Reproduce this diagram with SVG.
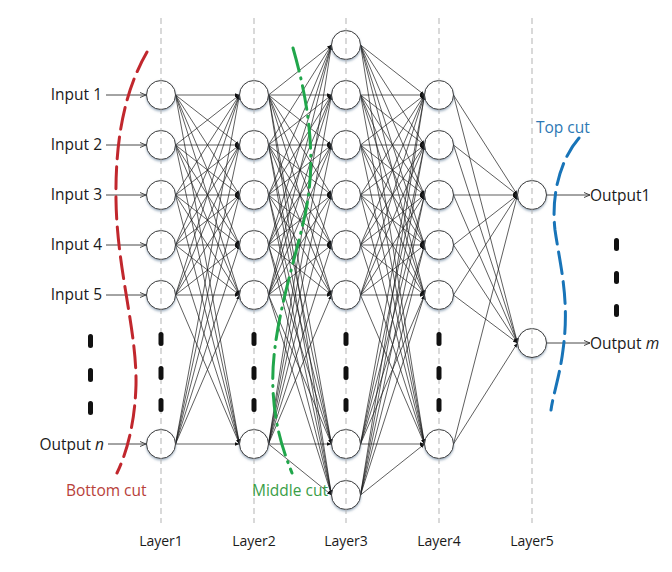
<svg xmlns="http://www.w3.org/2000/svg" width="672" height="572" viewBox="0 0 672 572">
<style>
text{font-family:"Open Sans","Noto Sans","Liberation Sans",sans-serif;font-size:15.5px;fill:#1a1a1a}
.lay{font-size:14px;text-anchor:middle}
.c line{stroke:#1a1a1a;stroke-width:0.7;marker-end:url(#ah)}
.io line{stroke:#333;stroke-width:0.9;marker-end:url(#oa)}
.n{fill:#fff;stroke:#3a3a3a;stroke-width:1;filter:url(#sh)}
.g{stroke:#b3b3b3;stroke-width:1;stroke-dasharray:6 4}
.bar{fill:#111}
.cut{fill:none;stroke-width:3;stroke-linecap:round}
</style>
<defs>
<marker id="ah" markerUnits="userSpaceOnUse" markerWidth="6" markerHeight="5" refX="4.5" refY="1.75" orient="auto"><path d="M0,0L4.5,1.75L0,3.5z" fill="#111"/></marker>
<marker id="oa" markerUnits="userSpaceOnUse" markerWidth="7" markerHeight="7" refX="6" refY="3" orient="auto"><path d="M0,0.5L6,3L0,5.5" fill="none" stroke="#333" stroke-width="0.9"/></marker>
<filter id="sh" x="-30%" y="-30%" width="160%" height="170%"><feDropShadow dx="0" dy="1.5" stdDeviation="0.8" flood-color="#52708f" flood-opacity="0.55"/></filter>
</defs>
<rect width="672" height="572" fill="#fff"/>
<g id="connectors">
<g class="c">
<line x1="175.5" y1="95" x2="239.5" y2="95"/><line x1="175.5" y1="95" x2="239.5" y2="145"/><line x1="175.5" y1="95" x2="239.5" y2="195"/><line x1="175.5" y1="95" x2="239.5" y2="245"/><line x1="175.5" y1="95" x2="239.5" y2="295"/><line x1="175.5" y1="95" x2="239.5" y2="444"/>
<line x1="175.5" y1="145" x2="239.5" y2="95"/><line x1="175.5" y1="145" x2="239.5" y2="145"/><line x1="175.5" y1="145" x2="239.5" y2="195"/><line x1="175.5" y1="145" x2="239.5" y2="245"/><line x1="175.5" y1="145" x2="239.5" y2="295"/><line x1="175.5" y1="145" x2="239.5" y2="444"/>
<line x1="175.5" y1="195" x2="239.5" y2="95"/><line x1="175.5" y1="195" x2="239.5" y2="145"/><line x1="175.5" y1="195" x2="239.5" y2="195"/><line x1="175.5" y1="195" x2="239.5" y2="245"/><line x1="175.5" y1="195" x2="239.5" y2="295"/><line x1="175.5" y1="195" x2="239.5" y2="444"/>
<line x1="175.5" y1="245" x2="239.5" y2="95"/><line x1="175.5" y1="245" x2="239.5" y2="145"/><line x1="175.5" y1="245" x2="239.5" y2="195"/><line x1="175.5" y1="245" x2="239.5" y2="245"/><line x1="175.5" y1="245" x2="239.5" y2="295"/><line x1="175.5" y1="245" x2="239.5" y2="444"/>
<line x1="175.5" y1="295" x2="239.5" y2="95"/><line x1="175.5" y1="295" x2="239.5" y2="145"/><line x1="175.5" y1="295" x2="239.5" y2="195"/><line x1="175.5" y1="295" x2="239.5" y2="245"/><line x1="175.5" y1="295" x2="239.5" y2="295"/><line x1="175.5" y1="295" x2="239.5" y2="444"/>
<line x1="175.5" y1="444" x2="239.5" y2="95"/><line x1="175.5" y1="444" x2="239.5" y2="145"/><line x1="175.5" y1="444" x2="239.5" y2="195"/><line x1="175.5" y1="444" x2="239.5" y2="245"/><line x1="175.5" y1="444" x2="239.5" y2="295"/><line x1="175.5" y1="444" x2="239.5" y2="444"/>

<line x1="268.5" y1="95" x2="331.5" y2="45"/><line x1="268.5" y1="95" x2="331.5" y2="95"/><line x1="268.5" y1="95" x2="331.5" y2="145"/><line x1="268.5" y1="95" x2="331.5" y2="195"/><line x1="268.5" y1="95" x2="331.5" y2="245"/><line x1="268.5" y1="95" x2="331.5" y2="295"/><line x1="268.5" y1="95" x2="331.5" y2="444"/><line x1="268.5" y1="95" x2="331.5" y2="495"/>
<line x1="268.5" y1="145" x2="331.5" y2="45"/><line x1="268.5" y1="145" x2="331.5" y2="95"/><line x1="268.5" y1="145" x2="331.5" y2="145"/><line x1="268.5" y1="145" x2="331.5" y2="195"/><line x1="268.5" y1="145" x2="331.5" y2="245"/><line x1="268.5" y1="145" x2="331.5" y2="295"/><line x1="268.5" y1="145" x2="331.5" y2="444"/><line x1="268.5" y1="145" x2="331.5" y2="495"/>
<line x1="268.5" y1="195" x2="331.5" y2="45"/><line x1="268.5" y1="195" x2="331.5" y2="95"/><line x1="268.5" y1="195" x2="331.5" y2="145"/><line x1="268.5" y1="195" x2="331.5" y2="195"/><line x1="268.5" y1="195" x2="331.5" y2="245"/><line x1="268.5" y1="195" x2="331.5" y2="295"/><line x1="268.5" y1="195" x2="331.5" y2="444"/><line x1="268.5" y1="195" x2="331.5" y2="495"/>
<line x1="268.5" y1="245" x2="331.5" y2="45"/><line x1="268.5" y1="245" x2="331.5" y2="95"/><line x1="268.5" y1="245" x2="331.5" y2="145"/><line x1="268.5" y1="245" x2="331.5" y2="195"/><line x1="268.5" y1="245" x2="331.5" y2="245"/><line x1="268.5" y1="245" x2="331.5" y2="295"/><line x1="268.5" y1="245" x2="331.5" y2="444"/><line x1="268.5" y1="245" x2="331.5" y2="495"/>
<line x1="268.5" y1="295" x2="331.5" y2="45"/><line x1="268.5" y1="295" x2="331.5" y2="95"/><line x1="268.5" y1="295" x2="331.5" y2="145"/><line x1="268.5" y1="295" x2="331.5" y2="195"/><line x1="268.5" y1="295" x2="331.5" y2="245"/><line x1="268.5" y1="295" x2="331.5" y2="295"/><line x1="268.5" y1="295" x2="331.5" y2="444"/><line x1="268.5" y1="295" x2="331.5" y2="495"/>
<line x1="268.5" y1="444" x2="331.5" y2="45"/><line x1="268.5" y1="444" x2="331.5" y2="95"/><line x1="268.5" y1="444" x2="331.5" y2="145"/><line x1="268.5" y1="444" x2="331.5" y2="195"/><line x1="268.5" y1="444" x2="331.5" y2="245"/><line x1="268.5" y1="444" x2="331.5" y2="295"/><line x1="268.5" y1="444" x2="331.5" y2="444"/><line x1="268.5" y1="444" x2="331.5" y2="495"/>

<line x1="360.5" y1="45" x2="424.5" y2="95"/><line x1="360.5" y1="45" x2="424.5" y2="145"/><line x1="360.5" y1="45" x2="424.5" y2="195"/><line x1="360.5" y1="45" x2="424.5" y2="245"/><line x1="360.5" y1="45" x2="424.5" y2="295"/><line x1="360.5" y1="45" x2="424.5" y2="444"/>
<line x1="360.5" y1="95" x2="424.5" y2="95"/><line x1="360.5" y1="95" x2="424.5" y2="145"/><line x1="360.5" y1="95" x2="424.5" y2="195"/><line x1="360.5" y1="95" x2="424.5" y2="245"/><line x1="360.5" y1="95" x2="424.5" y2="295"/><line x1="360.5" y1="95" x2="424.5" y2="444"/>
<line x1="360.5" y1="145" x2="424.5" y2="95"/><line x1="360.5" y1="145" x2="424.5" y2="145"/><line x1="360.5" y1="145" x2="424.5" y2="195"/><line x1="360.5" y1="145" x2="424.5" y2="245"/><line x1="360.5" y1="145" x2="424.5" y2="295"/><line x1="360.5" y1="145" x2="424.5" y2="444"/>
<line x1="360.5" y1="195" x2="424.5" y2="95"/><line x1="360.5" y1="195" x2="424.5" y2="145"/><line x1="360.5" y1="195" x2="424.5" y2="195"/><line x1="360.5" y1="195" x2="424.5" y2="245"/><line x1="360.5" y1="195" x2="424.5" y2="295"/><line x1="360.5" y1="195" x2="424.5" y2="444"/>
<line x1="360.5" y1="245" x2="424.5" y2="95"/><line x1="360.5" y1="245" x2="424.5" y2="145"/><line x1="360.5" y1="245" x2="424.5" y2="195"/><line x1="360.5" y1="245" x2="424.5" y2="245"/><line x1="360.5" y1="245" x2="424.5" y2="295"/><line x1="360.5" y1="245" x2="424.5" y2="444"/>
<line x1="360.5" y1="295" x2="424.5" y2="95"/><line x1="360.5" y1="295" x2="424.5" y2="145"/><line x1="360.5" y1="295" x2="424.5" y2="195"/><line x1="360.5" y1="295" x2="424.5" y2="245"/><line x1="360.5" y1="295" x2="424.5" y2="295"/><line x1="360.5" y1="295" x2="424.5" y2="444"/>
<line x1="360.5" y1="444" x2="424.5" y2="95"/><line x1="360.5" y1="444" x2="424.5" y2="145"/><line x1="360.5" y1="444" x2="424.5" y2="195"/><line x1="360.5" y1="444" x2="424.5" y2="245"/><line x1="360.5" y1="444" x2="424.5" y2="295"/><line x1="360.5" y1="444" x2="424.5" y2="444"/>
<line x1="360.5" y1="495" x2="424.5" y2="95"/><line x1="360.5" y1="495" x2="424.5" y2="145"/><line x1="360.5" y1="495" x2="424.5" y2="195"/><line x1="360.5" y1="495" x2="424.5" y2="245"/><line x1="360.5" y1="495" x2="424.5" y2="295"/><line x1="360.5" y1="495" x2="424.5" y2="444"/>

<line x1="453.5" y1="95" x2="517.5" y2="195"/><line x1="453.5" y1="95" x2="517.5" y2="343"/>
<line x1="453.5" y1="145" x2="517.5" y2="195"/><line x1="453.5" y1="145" x2="517.5" y2="343"/>
<line x1="453.5" y1="195" x2="517.5" y2="195"/><line x1="453.5" y1="195" x2="517.5" y2="343"/>
<line x1="453.5" y1="245" x2="517.5" y2="195"/><line x1="453.5" y1="245" x2="517.5" y2="343"/>
<line x1="453.5" y1="295" x2="517.5" y2="195"/><line x1="453.5" y1="295" x2="517.5" y2="343"/>
<line x1="453.5" y1="444" x2="517.5" y2="195"/><line x1="453.5" y1="444" x2="517.5" y2="343"/>
</g>
<g class="io">
<line x1="106" y1="95" x2="146" y2="95"/><line x1="106" y1="145" x2="146" y2="145"/><line x1="106" y1="195" x2="146" y2="195"/><line x1="106" y1="245" x2="146" y2="245"/><line x1="106" y1="295" x2="146" y2="295"/><line x1="108" y1="444" x2="146" y2="444"/>
<line x1="547" y1="195" x2="590" y2="195"/><line x1="547" y1="343" x2="590" y2="343"/>
</g>
</g>
<g id="layer1">
<g id="n1_1"><circle class="n" cx="161" cy="95" r="14.5"/></g>
<g id="n1_2"><circle class="n" cx="161" cy="145" r="14.5"/></g>
<g id="n1_3"><circle class="n" cx="161" cy="195" r="14.5"/></g>
<g id="n1_4"><circle class="n" cx="161" cy="245" r="14.5"/></g>
<g id="n1_5"><circle class="n" cx="161" cy="295" r="14.5"/></g>
<g id="n1_n"><circle class="n" cx="161" cy="444" r="14.5"/></g>
</g>
<g id="layer2">
<g id="n2_1"><circle class="n" cx="254" cy="95" r="14.5"/></g>
<g id="n2_2"><circle class="n" cx="254" cy="145" r="14.5"/></g>
<g id="n2_3"><circle class="n" cx="254" cy="195" r="14.5"/></g>
<g id="n2_4"><circle class="n" cx="254" cy="245" r="14.5"/></g>
<g id="n2_5"><circle class="n" cx="254" cy="295" r="14.5"/></g>
<g id="n2_n"><circle class="n" cx="254" cy="444" r="14.5"/></g>
</g>
<g id="layer3">
<g id="n3_0"><circle class="n" cx="346" cy="45" r="14.5"/></g>
<g id="n3_1"><circle class="n" cx="346" cy="95" r="14.5"/></g>
<g id="n3_2"><circle class="n" cx="346" cy="145" r="14.5"/></g>
<g id="n3_3"><circle class="n" cx="346" cy="195" r="14.5"/></g>
<g id="n3_4"><circle class="n" cx="346" cy="245" r="14.5"/></g>
<g id="n3_5"><circle class="n" cx="346" cy="295" r="14.5"/></g>
<g id="n3_n"><circle class="n" cx="346" cy="444" r="14.5"/></g>
<g id="n3_m"><circle class="n" cx="346" cy="495" r="14.5"/></g>
</g>
<g id="layer4">
<g id="n4_1"><circle class="n" cx="439" cy="95" r="14.5"/></g>
<g id="n4_2"><circle class="n" cx="439" cy="145" r="14.5"/></g>
<g id="n4_3"><circle class="n" cx="439" cy="195" r="14.5"/></g>
<g id="n4_4"><circle class="n" cx="439" cy="245" r="14.5"/></g>
<g id="n4_5"><circle class="n" cx="439" cy="295" r="14.5"/></g>
<g id="n4_n"><circle class="n" cx="439" cy="444" r="14.5"/></g>
</g>
<g id="layer5">
<g id="n5_1"><circle class="n" cx="532" cy="195" r="14.5"/></g>
<g id="n5_m"><circle class="n" cx="532" cy="343" r="14.5"/></g>
</g>
<g id="gridlines">
<line class="g" x1="161" y1="18" x2="161" y2="523"/>
<line class="g" x1="254" y1="18" x2="254" y2="523"/>
<line class="g" x1="346" y1="18" x2="346" y2="523"/>
<line class="g" x1="439" y1="18" x2="439" y2="523"/>
<line class="g" x1="532" y1="18" x2="532" y2="523"/>
</g>
<g id="ellipsis">
<rect class="bar" x="88" y="334" width="5" height="14" rx="2.5"/><rect class="bar" x="88" y="368" width="5" height="14" rx="2.5"/><rect class="bar" x="88" y="401" width="5" height="14" rx="2.5"/>
<rect class="bar" x="158.5" y="332" width="5" height="14" rx="2.5"/><rect class="bar" x="158.5" y="366" width="5" height="14" rx="2.5"/><rect class="bar" x="158.5" y="398" width="5" height="14" rx="2.5"/>
<rect class="bar" x="251.5" y="332" width="5" height="14" rx="2.5"/><rect class="bar" x="251.5" y="366" width="5" height="14" rx="2.5"/><rect class="bar" x="251.5" y="398" width="5" height="14" rx="2.5"/>
<rect class="bar" x="343.5" y="332" width="5" height="14" rx="2.5"/><rect class="bar" x="343.5" y="366" width="5" height="14" rx="2.5"/><rect class="bar" x="343.5" y="398" width="5" height="14" rx="2.5"/>
<rect class="bar" x="436.5" y="332" width="5" height="14" rx="2.5"/><rect class="bar" x="436.5" y="366" width="5" height="14" rx="2.5"/><rect class="bar" x="436.5" y="398" width="5" height="14" rx="2.5"/>
<rect class="bar" x="614" y="238" width="5" height="13" rx="2.5"/><rect class="bar" x="614" y="271" width="5" height="13" rx="2.5"/><rect class="bar" x="614" y="304" width="5" height="13" rx="2.5"/>
</g>
<g id="cuts">
<path class="cut" stroke="#c1272d" stroke-dasharray="22 8" d="M147,52 C128,85 115,130 116,200 C117,270 137,330 136,385 C135,420 128,450 117,473"/>
<path class="cut" stroke="#21a64b" stroke-dasharray="24 7 1 7" d="M293,48 C305,90 318,150 306,210 C296,260 270,330 273,390 C275,430 285,455 292,473"/>
<path class="cut" stroke="#1874b8" stroke-dasharray="22 8" d="M579,138 C560,160 551,195 555,230 C560,265 570,300 563,350 C560,375 553,395 551,410"/>
</g>
<g id="labels">
<text x="102" y="100" text-anchor="end">Input 1</text>
<text x="102" y="150" text-anchor="end">Input 2</text>
<text x="102" y="200" text-anchor="end">Input 3</text>
<text x="102" y="250" text-anchor="end">Input 4</text>
<text x="102" y="300" text-anchor="end">Input 5</text>
<text x="104" y="450" text-anchor="end">Output <tspan font-style="italic">n</tspan></text>
<text x="590" y="201">Output1</text>
<text x="590" y="349">Output <tspan font-style="italic">m</tspan></text>
<text x="66" y="496" style="fill:#b8413a">Bottom cut</text>
<text x="252" y="496" style="fill:#3a9e47">Middle cut</text>
<text x="536" y="133" style="fill:#2c78b4">Top cut</text>
<text class="lay" x="161" y="546">Layer1</text>
<text class="lay" x="254" y="546">Layer2</text>
<text class="lay" x="346" y="546">Layer3</text>
<text class="lay" x="439" y="546">Layer4</text>
<text class="lay" x="532" y="546">Layer5</text>
</g>
</svg>
